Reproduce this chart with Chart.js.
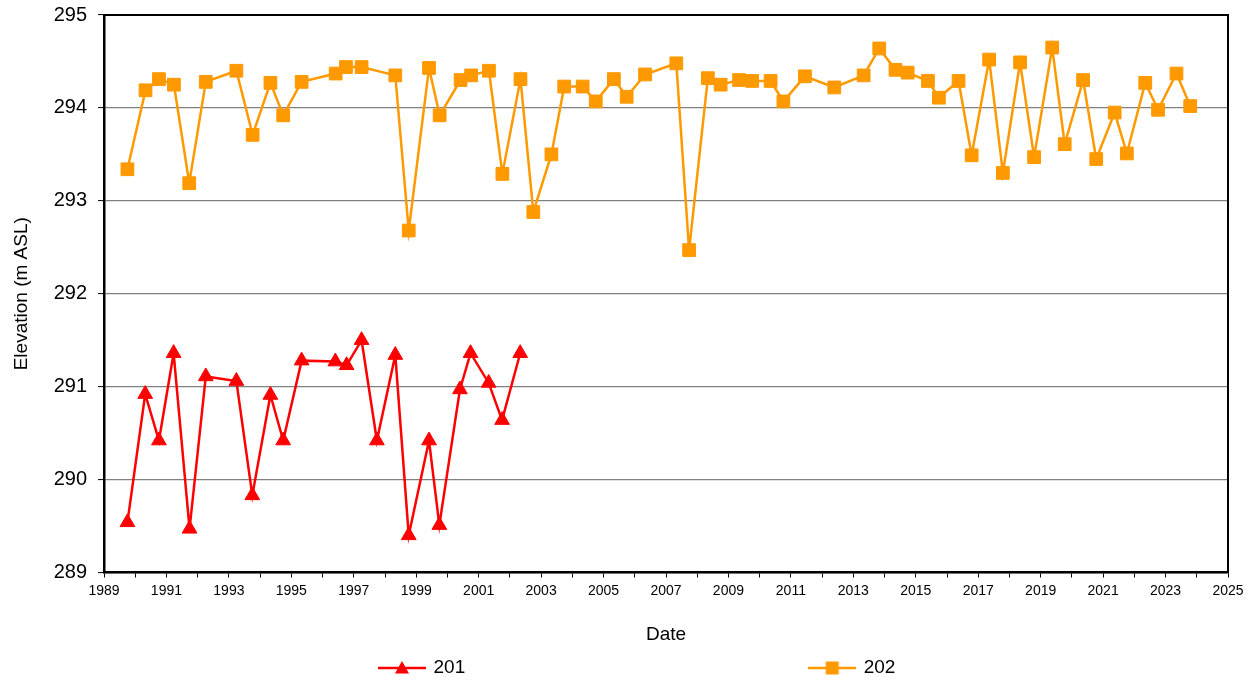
<!DOCTYPE html>
<html>
<head>
<meta charset="utf-8">
<script src="https://cdn.jsdelivr.net/npm/chart.js@4/dist/chart.umd.min.js"></script>
<style>
  html, body { margin: 0; padding: 0; background: #fff; }
  canvas { display: block; }
</style>
</head>
<body>
<canvas id="c" width="1256" height="683"></canvas>
<script>
// ---- Data ----
const seriesNames = ['201', '202'];

const dates201 = [1989.75, 1990.32, 1990.76, 1991.23, 1991.74, 1992.26, 1993.24, 1993.75,
  1994.33, 1994.74, 1995.33, 1996.41, 1996.77, 1997.25, 1997.74, 1998.33, 1998.76,
  1999.41, 1999.74, 2000.40, 2000.74, 2001.32, 2001.75, 2002.33];
const values201 = [289.54, 290.92, 290.42, 291.36, 289.47, 291.11, 291.06, 289.83,
  290.91, 290.42, 291.28, 291.27, 291.23, 291.50, 290.42, 291.34, 289.40,
  290.42, 289.51, 290.97, 291.36, 291.04, 290.64, 291.36];

const dates202 = [1989.75, 1990.33, 1990.76, 1991.24, 1991.73, 1992.26, 1993.24, 1993.76,
  1994.33, 1994.74, 1995.33, 1996.42, 1996.75, 1997.25, 1998.33, 1998.76,
  1999.41, 1999.75, 2000.42, 2000.76, 2001.33, 2001.76, 2002.34, 2002.75,
  2003.33, 2003.74, 2004.33, 2004.75, 2005.33, 2005.74, 2006.33, 2007.33,
  2007.74, 2008.34, 2008.75, 2009.34, 2009.76, 2010.35, 2010.76, 2011.45,
  2012.39, 2013.33, 2013.83, 2014.35, 2014.74, 2015.39, 2015.74, 2016.37,
  2016.79, 2017.35, 2017.79, 2018.34, 2018.79, 2019.37, 2019.77, 2020.36,
  2020.78, 2021.37, 2021.76, 2022.35, 2022.76, 2023.35, 2023.79];
const values202 = [293.34, 294.19, 294.31, 294.25, 293.19, 294.28, 294.40, 293.71,
  294.27, 293.92, 294.28, 294.37, 294.44, 294.44, 294.35, 292.68,
  294.43, 293.92, 294.30, 294.35, 294.40, 293.29, 294.31, 292.88,
  293.50, 294.23, 294.23, 294.07, 294.31, 294.12, 294.36, 294.48,
  292.47, 294.32, 294.25, 294.30, 294.29, 294.29, 294.07, 294.34,
  294.22, 294.35, 294.64, 294.41, 294.38, 294.29, 294.11, 294.29,
  293.49, 294.52, 293.30, 294.49, 293.47, 294.65, 293.61, 294.30,
  293.45, 293.95, 293.51, 294.27, 293.98, 294.37, 294.02];

const xMin = 1989, xMax = 2025;
const yMin = 289, yMax = 295;
const xTitle = 'Date';
const yTitle = 'Elevation (m ASL)';

// ---- Styles ----
const RED = '#FF0000';
const ORANGE = '#FF9900';
const FONT = "'Liberation Sans', Arial, sans-serif";

function toPoints(xs, ys) { return xs.map((x, i) => ({ x: x, y: ys[i] })); }

// legend icon: short line with the series marker
function legendIcon(color, shape) {
  const c = document.createElement('canvas');
  c.width = 48; c.height = 18;
  const g = c.getContext('2d');
  g.strokeStyle = color; g.lineWidth = 2.5;
  g.beginPath(); g.moveTo(0, 9); g.lineTo(48, 9); g.stroke();
  g.fillStyle = color;
  g.beginPath();
  if (shape === 'triangle') {
    g.moveTo(24, 2); g.lineTo(31, 14.5); g.lineTo(17, 14.5); g.closePath();
  } else {
    g.rect(17.5, 2.5, 13, 13);
  }
  g.fill();
  return c;
}

const LEGEND_X = 380;   // start of first legend item
const LEGEND_Y = 668;   // vertical centre of legend row

const layoutTweaks = {
  id: 'layoutTweaks',
  afterLayout(chart) {
    const lg = chart.legend;
    if (!lg || !lg.lineWidths) return;
    const pad = lg.options.labels.padding;
    lg.right = chart.width + 100;
    lg.left = 2 * LEGEND_X - pad - lg.right + lg.lineWidths[0];
    lg.top = LEGEND_Y - 9.5 - pad;
    lg.bottom = chart.height;
  },
  beforeDatasetsDraw(chart) {
    const a = chart.chartArea, ctx = chart.ctx;
    ctx.save();
    ctx.strokeStyle = '#000';
    ctx.lineWidth = 2;
    ctx.beginPath();
    ctx.moveTo(a.left, a.top); ctx.lineTo(a.right, a.top); ctx.lineTo(a.right, a.bottom);
    ctx.stroke();
    ctx.restore();
  }
};

new Chart(document.getElementById('c'), {
  type: 'line',
  data: {
    datasets: [
      {
        label: seriesNames[0],
        data: toPoints(dates201, values201),
        borderColor: RED, backgroundColor: RED,
        borderWidth: 2.5,
        pointStyle: 'triangle', pointRadius: 8.5, pointHoverRadius: 8.5,
        pointBackgroundColor: RED, pointBorderColor: RED, pointBorderWidth: 1,
        tension: 0
      },
      {
        label: seriesNames[1],
        data: toPoints(dates202, values202),
        borderColor: ORANGE, backgroundColor: ORANGE,
        borderWidth: 2.5,
        pointStyle: 'rect', pointRadius: 9, pointHoverRadius: 9,
        pointBackgroundColor: ORANGE, pointBorderColor: ORANGE, pointBorderWidth: 1,
        tension: 0
      }
    ]
  },
  options: {
    responsive: false,
    animation: false,
    layout: { padding: { top: 15, right: 28, left: 0, bottom: 0 } },
    plugins: {
      tooltip: { enabled: false },
      legend: {
        position: 'bottom',
        maxHeight: 38.5,
        labels: {
          usePointStyle: true,
          pointStyleWidth: 44,
          padding: 345,
          color: '#000',
          font: { family: FONT, size: 19 },
          generateLabels(chart) {
            return chart.data.datasets.map((ds, i) => ({
              text: ds.label,
              fillStyle: ds.borderColor,
              strokeStyle: ds.borderColor,
              fontColor: '#000',
              lineWidth: 0,
              hidden: false,
              datasetIndex: i,
              pointStyle: legendIcon(ds.borderColor, ds.pointStyle)
            }));
          }
        }
      }
    },
    scales: {
      x: {
        type: 'linear',
        min: xMin, max: xMax,
        afterFit(scale) { scale.height = 72; scale.paddingLeft = 0; scale.paddingRight = 0; },
        border: { display: true, color: '#000', width: 2.5 },
        grid: { drawOnChartArea: false, drawTicks: true, tickLength: 5, tickColor: '#000', tickWidth: 1 },
        ticks: {
          stepSize: 1, autoSkip: false, maxRotation: 0, minRotation: 0,
          padding: 5, color: '#000',
          font: { family: FONT, size: 14 },
          callback(v) { const y = Math.round(v); return (y % 2 === 1) ? String(y) : ''; }
        },
        title: {
          display: true, text: xTitle, color: '#000',
          font: { family: FONT, size: 19, lineHeight: 1 },
          padding: { top: 0, bottom: 0 }
        }
      },
      y: {
        type: 'linear',
        min: yMin, max: yMax,
        afterFit(scale) { scale.width = 104; scale.paddingTop = 0; scale.paddingBottom = 0; },
        border: { display: true, color: '#000', width: 2.5 },
        grid: { color: '#808080', lineWidth: 1.2, drawTicks: true, tickLength: 6, tickColor: '#000', tickWidth: 1 },
        ticks: {
          stepSize: 1, padding: 11, color: '#000',
          font: { family: FONT, size: 20 }
        },
        title: {
          display: true, text: yTitle, color: '#000',
          font: { family: FONT, size: 19, lineHeight: 1 },
          padding: { top: 12, bottom: 0 }
        }
      }
    }
  },
  plugins: [layoutTweaks]
});
</script>
</body>
</html>
